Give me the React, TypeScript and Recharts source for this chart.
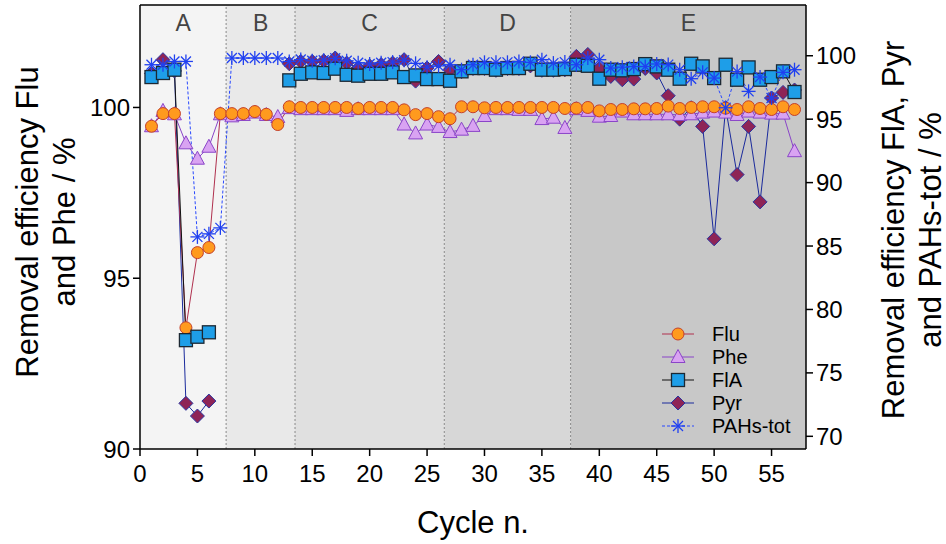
import React from 'react';
import { ComposedChart, Line, XAxis, YAxis, ReferenceArea, ReferenceLine, Legend, Label } from 'recharts';

const cycles = [
  1, 2, 3, 4, 5, 6, 7, 8, 9, 10, 11, 12, 13, 14, 15, 16, 17, 18, 19, 20,
  21, 22, 23, 24, 25, 26, 27, 28, 29, 30, 31, 32, 33, 34, 35, 36, 37, 38, 39, 40,
  41, 42, 43, 44, 45, 46, 47, 48, 49, 50, 51, 52, 53, 54, 55, 56, 57,
];

const flu = [
  99.45, 99.82, 99.82, 93.55, 95.75, 95.9, 99.82, 99.82, 99.82, 99.88, 99.8, 99.5,
  100.02, 100.0, 100.0, 100.0, 100.0, 100.0, 99.97, 100.0, 100.0, 100.0,
  99.93, 99.79, 99.82, 99.73, 99.67,
  100.02, 100.02, 99.99, 100.0, 100.0, 100.0, 100.0, 100.0, 100.0, 99.97,
  99.98, 100.0, 99.9, 99.94, 99.94, 99.96, 99.96, 99.97, 100.04, 99.97,
  100.0, 100.02, 100.02, 99.98, 99.94, 100.02, 99.97, 99.94, 100.02, 99.94,
];

const phe = [
  99.45, 99.9, 99.8, 98.95, 98.5, 98.85, 99.8, 99.74, 99.78, 99.85, 99.78, 99.72,
  99.98, 99.95, 99.95, 99.95, 99.95, 99.9, 99.95, 99.95, 99.95, 99.95,
  99.5, 99.24, 99.5, 99.43, 99.28,
  99.35, 99.46, 99.75, 99.95, 99.95, 99.93, 99.93, 99.66, 99.7, 99.4,
  99.95, 99.9, 99.73, 99.75, 99.88, 99.8, 99.8, 99.8, 99.8, 99.78,
  99.8, 99.85, 99.88, 99.85, 99.78, 99.88, 99.85, 99.82, 99.82, 98.72,
];

const fla = [
  98.32, 98.64, 98.9, 77.58, 77.85, 78.2, null, null, null, null, null, null,
  98.06, 98.58, 98.69, 98.64, 98.98, 98.5, 98.43, 98.58, 98.58, 98.69,
  98.32, 98.45, 98.16, 98.16, 98.03,
  98.77, 99.03, 99.03, 98.9, 99.03, 99.03, 99.37, 98.9, 98.9, 98.95,
  99.29, 99.21, 98.19, 98.9, 98.85, 98.95, 99.34, 99.16, 98.9, 98.19,
  99.37, 99.16, 98.24, 99.29, 98.11, 99.08, 98.11, 98.32, 98.77, 97.14,
];

const pyr = [
  98.6, 99.69, 98.8, 72.6, 71.6, 72.78, null, null, null, null, null, null,
  99.37, 99.55, 99.55, 99.6, 99.82, 99.42, 99.03, 99.2, 99.3, 99.42,
  99.69, 98.0, 99.03, 99.55, 98.9,
  98.75, 99.0, 99.0, 98.85, 99.0, 99.0, 99.2, 98.85, 98.85, 98.9,
  99.95, 100.1, 98.98, 98.37, 98.11, 98.16, 99.0, 98.64, 96.85, 95.0,
  95.9, 94.43, 85.57, 95.9, 90.63, 94.43, 88.48, 96.67, 97.11, 97.3,
];

const pahsTot = [
  99.29, 99.29, 99.55, 99.55, 85.72, 85.96, 86.43, 99.82, 99.82, 99.82, 99.82, 99.82,
  99.55, 99.7, 99.6, 99.65, 99.8, 99.6, 99.45, 99.35, 99.45, 99.5,
  99.65, 99.4, 99.1, 99.2, 99.29,
  98.9, 99.29, 99.48, 99.48, 99.48, 99.55, 99.48, 99.69, 99.42, 99.5,
  99.29, 99.82, 99.69, 99.03, 99.1, 99.15, 99.15, 99.35, 99.3, 98.9,
  98.19, 98.69, 98.24, 95.9, 98.75, 97.19, 98.32, 96.67, 98.69, 98.9,
];

const regions = [
  { name: 'A', from: 0, to: 7.5, fill: '#f4f4f4' },
  { name: 'B', from: 7.5, to: 13.5, fill: '#e9e9e9' },
  { name: 'C', from: 13.5, to: 26.5, fill: '#e0e0e0' },
  { name: 'D', from: 26.5, to: 37.5, fill: '#d7d7d7' },
  { name: 'E', from: 37.5, to: 58, fill: '#c8c8c8' },
];

const xTicks = [0, 5, 10, 15, 20, 25, 30, 35, 40, 45, 50, 55];
const leftTicks = [90, 95, 100];
const rightTicks = [70, 75, 80, 85, 90, 95, 100];

const rows = cycles.map((c, i) => ({
  cycle: c, flu: flu[i], phe: phe[i], fla: fla[i], pyr: pyr[i], pahs: pahsTot[i],
}));

const FONT = '"Liberation Sans", Arial, Helvetica, sans-serif';

// marker shapes
const Circle = ({ x, y }: any) => <circle cx={x} cy={y} r={6} fill="#ff9a1e" stroke="#c4402a" strokeWidth={1} />;
const Tri = ({ x, y }: any) => (
  <polygon points={`${x},${y - 7.5} ${x - 7},${y + 5.5} ${x + 7},${y + 5.5}`} fill="#d9a3f2" stroke="#8a45c8" strokeWidth={1} />
);
const Sq = ({ x, y }: any) => <rect x={x - 6.5} y={y - 6.5} width={13} height={13} fill="#1e9ee8" stroke="#1c2833" strokeWidth={1.3} />;
const Dia = ({ x, y }: any) => (
  <polygon points={`${x},${y - 7} ${x + 7},${y} ${x},${y + 7} ${x - 7},${y}`} fill="#8e2456" stroke="#2a35a0" strokeWidth={1} />
);
const Star = ({ x, y }: any) => (
  <g stroke="#2040f0" strokeWidth={1.3}>
    <line x1={x - 7} y1={y} x2={x + 7} y2={y} />
    <line x1={x} y1={y - 7} x2={x} y2={y + 7} />
    <line x1={x - 5} y1={y - 5} x2={x + 5} y2={y + 5} />
    <line x1={x - 5} y1={y + 5} x2={x + 5} y2={y - 5} />
  </g>
);

const dotOf = (Shape: any) => (p: any) => {
  if (p.cy == null || p.value == null) return <g key={`e-${p.index}`} />;
  return <g key={`d-${p.index}`}><Shape x={p.cx} y={p.cy} /></g>;
};

// draw order: Pyr under the Flu circles, asterisks on top
const series = [
  { key: 'pyr', name: 'Pyr', axis: 'right', color: '#1a2a9c', dash: undefined, Shape: Dia },
  { key: 'phe', name: 'Phe', axis: 'left', color: '#8a44c8', dash: undefined, Shape: Tri },
  { key: 'flu', name: 'Flu', axis: 'left', color: '#b0304e', dash: undefined, Shape: Circle },
  { key: 'fla', name: 'FlA', axis: 'right', color: '#111111', dash: undefined, Shape: Sq },
  { key: 'pahs', name: 'PAHs-tot', axis: 'right', color: '#2848ff', dash: '3 2', Shape: Star },
];
const legendOrder = ['flu', 'phe', 'fla', 'pyr', 'pahs'];

const LegendBox = () => (
  <svg width={150} height={118} style={{ fontFamily: FONT }}>
    {legendOrder.map((k, i) => {
      const s = series.find((d) => d.key === k)!;
      const y = 12 + i * 23;
      return (
        <g key={k}>
          <line x1={6} x2={38} y1={y} y2={y} stroke={s.color} strokeDasharray={s.dash} strokeWidth={1} />
          <s.Shape x={22} y={y} />
          <text x={56} y={y} dominantBaseline="central" fontSize={20} fill="#000">{s.name}</text>
        </g>
      );
    })}
  </svg>
);

const RotLabel = (cx: number, cy: number, lines: string[], gap: number) => () => (
  <g>
    {lines.map((t, i) => (
      <text key={i} x={cx + i * gap} y={cy} transform={`rotate(-90, ${cx + i * gap}, ${cy})`}
        textAnchor="middle" dominantBaseline="central" fontSize={31} fill="#000" fontFamily={FONT}>{t}</text>
    ))}
  </g>
);

export default function App() {
  return (
    <div style={{ position: 'absolute', left: 0, top: 0, fontFamily: FONT }}>
      <ComposedChart width={946} height={544} data={rows} margin={{ top: 5, right: 0, bottom: 0, left: 0 }}>
        {regions.map((r) => (
          <ReferenceArea key={r.name} yAxisId="left" x1={r.from} x2={r.to} y1={90} y2={103}
            fill={r.fill} fillOpacity={1} stroke="none"
            label={{ value: r.name, position: 'insideTop', offset: 10, fill: '#444', fontSize: 23, fontFamily: FONT }} />
        ))}
        {[7.5, 13.5, 26.5, 37.5].map((v) => (
          <ReferenceLine key={v} yAxisId="left" x={v} stroke="#8a8a8a" strokeDasharray="2 2" strokeWidth={1} />
        ))}
        <ReferenceLine yAxisId="left" y={103} stroke="#000" strokeWidth={1.5} />
        <XAxis dataKey="cycle" type="number" domain={[0, 58]} ticks={xTicks} allowDataOverflow height={95}
          stroke="#000" strokeWidth={1.5} tickSize={7} tickMargin={9}
          tick={{ fontSize: 24, fill: '#000', fontFamily: FONT }}>
          <Label content={() => (
            <text x={473} y={522} textAnchor="middle" dominantBaseline="central" fontSize={31} fill="#000" fontFamily={FONT}>Cycle n.</text>
          )} />
        </XAxis>
        <YAxis yAxisId="left" domain={[90, 103]} ticks={leftTicks} allowDataOverflow width={140}
          stroke="#000" strokeWidth={1.5} tickSize={7} tickMargin={3}
          tick={{ fontSize: 24, fill: '#000', fontFamily: FONT }}>
          <Label content={RotLabel(27, 222, ['Removal efficiency Flu', 'and Phe / %'], 37)} />
        </YAxis>
        <YAxis yAxisId="right" orientation="right" domain={[69, 104]} ticks={rightTicks} allowDataOverflow width={140}
          stroke="#000" strokeWidth={1.5} tickSize={7} tickMargin={3}
          tick={{ fontSize: 24, fill: '#000', fontFamily: FONT }}>
          <Label content={RotLabel(893, 230, ['Removal efficiency FlA, Pyr', 'and PAHs-tot / %'], 37)} />
        </YAxis>
        {series.map((s) => (
          <Line key={s.key} yAxisId={s.axis} dataKey={s.key} name={s.name} type="linear"
            stroke={s.color} strokeWidth={1} strokeDasharray={s.dash}
            dot={dotOf(s.Shape)} activeDot={false} connectNulls={false} isAnimationActive={false} />
        ))}
        <Legend layout="horizontal" verticalAlign="middle" align="center"
          wrapperStyle={{ left: 656, top: 322, width: 150, height: 118 }} content={() => <LegendBox />} />
      </ComposedChart>
    </div>
  );
}
